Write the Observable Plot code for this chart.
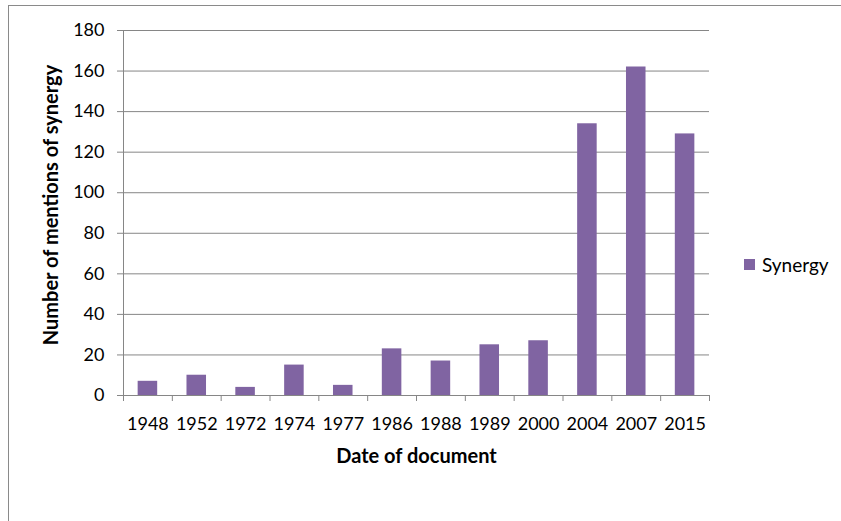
<!DOCTYPE html>
<html>
<head>
<meta charset="utf-8">
<script src="https://cdn.jsdelivr.net/npm/d3@7"></script>
<script src="https://cdn.jsdelivr.net/npm/@observablehq/plot@0.6"></script>
<style>
  html, body { margin: 0; padding: 0; background: #fff; overflow: hidden; }
  #wrap { position: relative; width: 841px; height: 521px; overflow: hidden; font-family: Lato, "Open Sans", sans-serif; }
  #frame { position: absolute; left: 8px; top: 5px; width: 900px; height: 600px; border-top: 1px solid #8a8a8a; border-left: 1px solid #8a8a8a; }
  #chart { position: absolute; left: 0; top: 0; }
  #legend { position: absolute; left: 744px; top: 253px; display: flex; align-items: center; font-size: 19px; color: #000; }
  #legend .sw { width: 11px; height: 11px; background: #8064A2; margin-right: 7px; }
</style>
</head>
<body>
<div id="wrap">
  <div id="frame"></div>
  <div id="chart"></div>
  <div id="legend"><span class="sw"></span><span>Synergy</span></div>
</div>
<script>
const years = ["1948","1952","1972","1974","1977","1986","1988","1989","2000","2004","2007","2015"];
const mentions = [7, 10, 4, 15, 5, 23, 17, 25, 27, 134, 162, 129];
const yTicks = [0, 20, 40, 60, 80, 100, 120, 140, 160, 180];
const seriesName = "Synergy";
const xTitle = "Date of document";
const yTitle = "Number of mentions of synergy";

const gap = 0.3;
const data = years.map((y, i) => ({i, year: y, value: mentions[i]}));
const grid = "#868686";

const chart = Plot.plot({
  width: 841,
  height: 521,
  marginLeft: 123,
  marginRight: 132,
  marginTop: 30,
  marginBottom: 126,
  x: {domain: [0, years.length], axis: null, label: null},
  y: {domain: [0, 180], axis: null, label: null},
  style: {fontFamily: "Lato, 'Open Sans', sans-serif", fontSize: "18px", color: "#000", background: "transparent", overflow: "visible"},
  marks: [
    Plot.ruleY(yTicks.filter(t => t > 0), {stroke: grid, strokeWidth: 1}),
    Plot.rectY(data, {x1: d => d.i + gap, x2: d => d.i + 1 - gap, y: "value", fill: "#8064A2"}),
    Plot.ruleY([0], {stroke: grid}),
    Plot.ruleX([0], {stroke: grid}),
    Plot.axisY({ticks: yTicks, tickSize: 6, tickPadding: 13, stroke: grid, fill: "#000", label: null, tickFormat: d => String(d)}),
    Plot.axisX({ticks: d3.range(0, years.length + 1), tickSize: 6, label: null, tickFormat: () => "", stroke: grid}),
    Plot.axisX({ticks: years.map((_, i) => i + 0.5), tickSize: 0, tickPadding: 22, label: null, fill: "#000", tickFormat: v => years[Math.floor(v)]}),
    Plot.text([xTitle], {frameAnchor: "bottom", dy: 61, text: d => d, fontWeight: "bold", fontSize: 20, textAnchor: "middle", lineAnchor: "middle"}),
    Plot.text([yTitle], {frameAnchor: "left", dx: -72, dy: -8, text: d => d, fontWeight: "bold", fontSize: 20, rotate: -90, textAnchor: "middle", lineAnchor: "middle"})
  ]
});
document.getElementById("chart").appendChild(chart);
</script>
</body>
</html>
